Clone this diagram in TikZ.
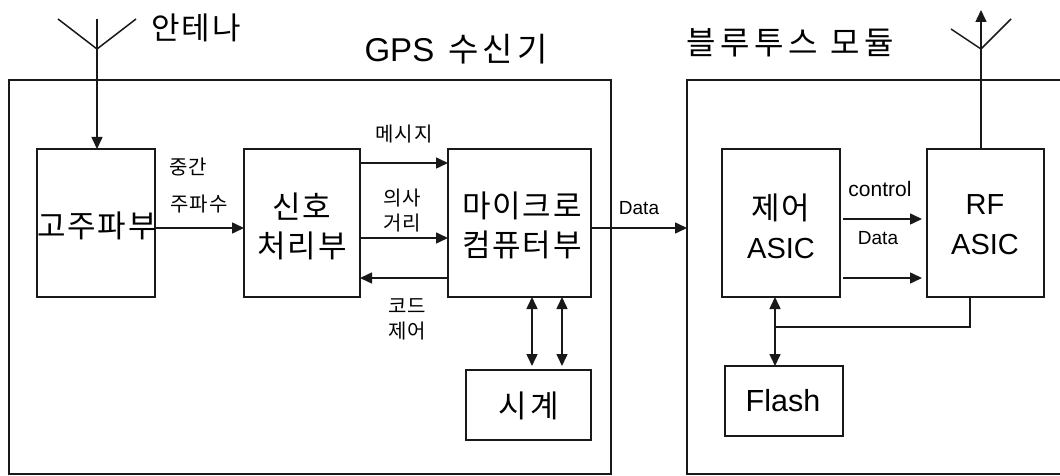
\documentclass[tikz,border=0pt]{standalone}
\usepackage{fontspec}
\setmainfont{Liberation Sans}
\newfontfamily\krf[LetterSpace=6]{Noto Sans CJK KR}
\newfontfamily\krw[LetterSpace=12]{Noto Sans CJK KR}
\newfontfamily\krx[LetterSpace=15]{Noto Sans CJK KR}
\usetikzlibrary{arrows.meta}
\tikzset{
 x=1pt,y=-1pt,
 tipa/.tip={Triangle[length=12pt,width=11pt]},
 wire/.style={line width=1.5pt,black!90},
 arr/.style={wire,-tipa},
 darr/.style={wire,tipa-tipa},
 block/.style={draw=black!90,line width=1.5pt,inner sep=0pt,outer sep=0pt,anchor=north west},
 big/.style={font=\fontsize{31}{39}\selectfont\krf,align=center,inner sep=0pt},
 bigl/.style={font=\fontsize{29}{40}\selectfont,align=center,inner sep=0pt},
 lab/.style={font=\fontsize{20}{25}\selectfont\krf,align=center,inner sep=0pt},
 labl/.style={font=\fontsize{19}{24}\selectfont,align=center,inner sep=0pt},
}
\begin{document}
\begin{tikzpicture}
\useasboundingbox (0,0) rectangle (1060,476);
% outer frames
\node[block,minimum width=602pt,minimum height=394pt] (gps) at (9,80) {};
\coordinate (bttl) at (687,80);
\coordinate (bttr) at (1060,80);
\coordinate (btbl) at (687,474);
\coordinate (btbr) at (1060,474);
\draw[wire] (bttr) -- (bttl) -- (btbl) -- (btbr);
% blocks
\node[block,minimum width=118pt,minimum height=148pt] (rf) at (37,149) {};
\node[block,minimum width=116pt,minimum height=148pt] (sig) at (244,149) {};
\node[block,minimum width=143pt,minimum height=148pt] (mcu) at (448,149) {};
\node[block,minimum width=125pt,minimum height=70pt] (clk) at (466,370) {};
\node[block,minimum width=118pt,minimum height=148pt] (ctl) at (722,149) {};
\node[block,minimum width=117pt,minimum height=148pt] (rfa) at (927,149) {};
\node[block,minimum width=118pt,minimum height=70pt] (fl) at (725,366) {};
% block texts
\node[big] (t1) at (97,226) {고주파부};
\node[big] (t2) at (302,226) {신호\\처리부};
\node[big] (t3) at (522,225) {마이크로\\컴퓨터부};
\node[big,font=\fontsize{31}{39}\selectfont\krw] (t4) at (529,406) {시계};
\node[big] (t5) at (781,226) {제어\\{\fontsize{29}{36}\selectfont\rmfamily ASIC}};
\node[bigl] (t6) at (985,225) {RF\\ASIC};
\node[bigl,font=\fontsize{30.5}{40}\selectfont] (t7) at (783,401) {Flash};
% titles
\node[inner sep=0pt,font=\fontsize{31}{36}\selectfont\krf] (a1) at (196,28) {안테나};
\node[inner sep=0pt,font=\fontsize{33}{36}\selectfont] (a2) at (456,49) {GPS\hspace{5pt} {\krw 수신기}};
\node[inner sep=0pt,font=\fontsize{32}{36}\selectfont\krx] (a3) at (790,43) {블루투스 모듈};
% small labels
\node[lab] (l1) at (188,167) {중간};
\node[lab] (l2) at (199,204) {주파수};
\node[lab] (l3) at (404,134) {메시지};
\node[lab] (l4) at (402,211) {의사\\거리};
\node[lab] (l5) at (407,319) {코드\\제어};
\node[labl] (l6) at (639,208) {Data};
\node[labl,font=\fontsize{21}{24}\selectfont] (l7) at (880,189) {control};
\node[labl] (l8) at (878,238) {Data};
% antenna left
\coordinate (al) at (97,49);
\coordinate (all) at (58,19);
\coordinate (alr) at (136,19);
\coordinate (alt) at (97,19);
\draw[wire] (all) -- (al) -- (alr);
\draw[wire] (alt) -- (al);
\draw[arr] (al) -- (rf.north -| al);
% antenna right
\coordinate (ar) at (981,49);
\coordinate (arl) at (951,29);
\coordinate (arr) at (1011,19);
\coordinate (art) at (981,10);
\draw[wire] (arl) -- (ar) -- (arr);
\draw[arr] (ar) -- (art);
\draw[wire] (rfa.north -| ar) -- (ar);
% connectors
\coordinate (y1) at (0,228);
\draw[arr] (rf.east |- y1) -- (sig.west |- y1);
\coordinate (y2) at (0,163);
\coordinate (y3) at (0,238);
\coordinate (y4) at (0,278);
\draw[arr] (sig.east |- y2) -- (mcu.west |- y2);
\draw[arr] (sig.east |- y3) -- (mcu.west |- y3);
\draw[arr] (mcu.west |- y4) -- (sig.east |- y4);
\draw[arr] (mcu.east |- y1) -- (bttl |- y1);
\coordinate (x1) at (532,0);
\coordinate (x2) at (562,0);
\draw[darr,shorten >=4pt] (mcu.south -| x1) -- (clk.north -| x1);
\draw[darr,shorten >=4pt] (mcu.south -| x2) -- (clk.north -| x2);
\coordinate (y6) at (0,219);
\coordinate (y7) at (0,278);
\coordinate (s1) at (843,0);
\draw[arr,shorten >=5pt] (s1 |- y6) -- (rfa.west |- y6);
\draw[arr,shorten >=5pt] (s1 |- y7) -- (rfa.west |- y7);
\coordinate (x3) at (775,0);
\coordinate (x4) at (970,0);
\coordinate (y8) at (0,327);
\draw[darr] (ctl.south -| x3) -- (fl.north -| x3);
\draw[wire] (x3 |- y8) -- (x4 |- y8) -- (rfa.south -| x4);
\end{tikzpicture}
\end{document}
